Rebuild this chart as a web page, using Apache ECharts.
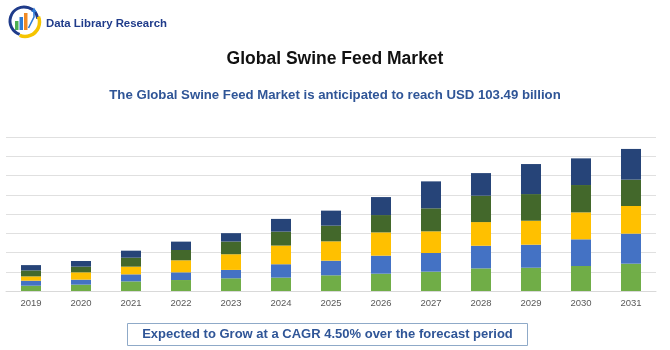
<!DOCTYPE html>
<html>
<head>
<meta charset="utf-8">
<script src="https://cdn.jsdelivr.net/npm/echarts@6/dist/echarts.min.js"></script>
<style>
html,body{margin:0;padding:0;background:#fff;}
#chart{width:670px;height:350px;}
</style>
</head>
<body>
<div id="chart"></div>
<script>
// Data (relative units; gridline step = 20)
const years = ['2019','2020','2021','2022','2023','2024','2025','2026','2027','2028','2029','2030','2031'];
const seg1 = [5.5, 6.6, 10.0, 11.4, 13.2, 13.9, 16.3, 18.0, 20.1, 23.5, 24.2, 26.0, 28.4];
const seg2 = [5.2, 5.2, 7.3, 8.0, 8.7, 13.9, 15.2, 18.7, 19.4, 23.5, 23.9, 27.7, 31.2];
const seg3 = [4.5, 7.6, 8.0, 12.5, 16.3, 19.4, 20.1, 24.2, 22.5, 24.6, 24.9, 28.0, 28.7];
const seg4 = [6.2, 5.9, 9.3, 10.7, 13.2, 14.5, 16.3, 18.0, 23.9, 27.4, 27.7, 28.4, 27.4];
const seg5 = [5.5, 5.9, 7.3, 8.7, 8.7, 13.2, 15.6, 18.7, 28.0, 23.5, 31.2, 27.7, 31.9];
const segNames = ['Segment 1','Segment 2','Segment 3','Segment 4','Segment 5'];
const segColors = ['#70AD47','#4472C4','#FFC000','#43682B','#264478'];

const titleText = 'Global Swine Feed Market';
const subtitleText = 'The Global Swine Feed Market is anticipated to reach USD 103.49 billion';
const footerText = 'Expected to Grow at a CAGR 4.50% over the forecast period';
const brandText = 'Data Library Research';

const chart = echarts.init(document.getElementById('chart'), null, {renderer:'canvas'});
const allSegs = [seg1, seg2, seg3, seg4, seg5];
const series = allSegs.map((d, i) => ({
  name: segNames[i],
  type: 'bar',
  stack: 'total',
  data: d,
  barWidth: 20,
  itemStyle: { color: segColors[i] },
  emphasis: { disabled: true }
}));

const FONT = '"Liberation Sans", Arial, sans-serif';

chart.setOption({
  animation: false,
  backgroundColor: '#ffffff',
  title: [
    { text: titleText, left: 'center', top: 45,
      textStyle: { fontFamily: FONT, fontSize: 17.5, fontWeight: 'bold', color: '#111111' } },
    { text: subtitleText, left: 'center', top: 84,
      textStyle: { fontFamily: FONT, fontSize: 13.2, fontWeight: 'bold', color: '#2F5597' } }
  ],
  grid: { left: 6, right: 14, top: 137, bottom: 59, containLabel: false },
  xAxis: {
    type: 'category',
    data: years,
    axisLine: { show: true, lineStyle: { color: '#d9d9d9', width: 1 } },
    axisTick: { show: false },
    axisLabel: { color: '#595959', fontFamily: FONT, fontSize: 9.5, margin: 7 }
  },
  yAxis: {
    type: 'value',
    min: 0, max: 160, interval: 20,
    axisLine: { show: false },
    axisTick: { show: false },
    axisLabel: { show: false },
    splitLine: { lineStyle: { color: '#e0e0e0', width: 1 } }
  },
  series: series,
  graphic: [
    // logo ring
    { type: 'arc', shape: { cx: 24, cy: 21, r: 14, startAngle: Math.PI * 0.6, endAngle: Math.PI * 1.95 },
      style: { stroke: '#1F3B8A', lineWidth: 3, fill: null } },
    { type: 'arc', shape: { cx: 25, cy: 22, r: 14.5, startAngle: -Math.PI * 0.12, endAngle: Math.PI * 0.62 },
      style: { stroke: '#F5C400', lineWidth: 3.5, fill: null } },
    { type: 'rect', shape: { x: 15, y: 21, width: 3.5, height: 9 }, style: { fill: '#4CAF50' } },
    { type: 'rect', shape: { x: 19.5, y: 17, width: 3.5, height: 13 }, style: { fill: '#2E7BD6' } },
    { type: 'rect', shape: { x: 24, y: 13, width: 3.5, height: 17 }, style: { fill: '#F08A24' } },
    { type: 'polyline', shape: { points: [[28.5, 28], [34, 17], [34, 11]] }, style: { stroke: '#2E7BD6', lineWidth: 1.6, fill: null } },
    { type: 'polygon', shape: { points: [[31.3, 12], [34, 7.5], [36.7, 12]] }, style: { fill: '#2E7BD6' } },
    { type: 'text', left: 46, top: 18,
      style: { text: brandText, fontFamily: FONT, fontSize: 11.4, fontWeight: 'bold', fill: '#1F3B8A' } },
    // footer box
    { type: 'rect', shape: { x: 127.5, y: 323.5, width: 400, height: 22 },
      style: { fill: '#ffffff', stroke: '#8FAAC8', lineWidth: 1 } },
    { type: 'text', x: 327.5, y: 334.5,
      style: { text: footerText, fontFamily: FONT, fontSize: 13, fontWeight: 'bold', fill: '#2F5597',
               align: 'center', verticalAlign: 'middle' } }
  ]
});
</script>
</body>
</html>
